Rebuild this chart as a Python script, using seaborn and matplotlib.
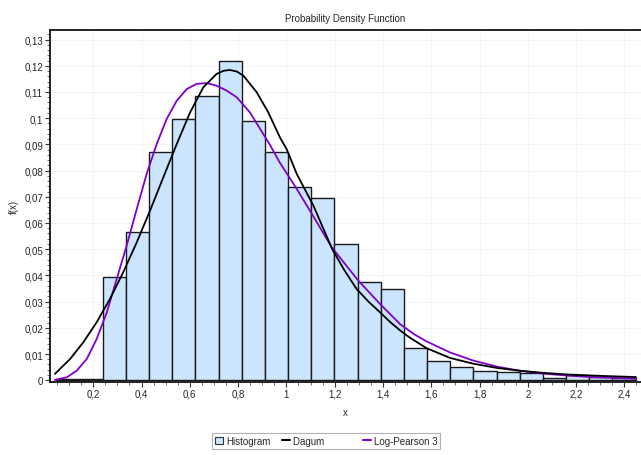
import numpy as np
import pandas as pd
import matplotlib
matplotlib.use("Agg")
import matplotlib.pyplot as plt
import seaborn as sns
from matplotlib.ticker import MultipleLocator, FuncFormatter
from matplotlib.patches import Patch
from matplotlib.lines import Line2D

# ---- data ----
hist_start = 0.0468
hist_width = 0.096
hist_heights = [0.0004, 0.0004, 0.0393, 0.0565, 0.0870, 0.0997, 0.1086, 0.1218,
                0.0991, 0.0870, 0.0739, 0.0697, 0.0520, 0.0374, 0.0348, 0.0124,
                0.0074, 0.0052, 0.0037, 0.0031, 0.0028, 0.0009, 0.0020, 0.0012,
                0.0008]

dagum_x = [0.041, 0.104, 0.159, 0.214, 0.269, 0.324, 0.380, 0.435, 0.490,
           0.546, 0.601, 0.656, 0.711, 0.740, 0.766, 0.795, 0.822, 0.877,
           0.925, 0.973, 1.001, 1.043, 1.080, 1.112, 1.150, 1.190, 1.240,
           1.291, 1.340, 1.388, 1.430, 1.471, 1.512, 1.581, 1.678, 1.774,
           1.871, 1.968, 2.064, 2.161, 2.258, 2.350, 2.448]
dagum_y = [0.0024, 0.0081, 0.0145, 0.0221, 0.0310, 0.0412, 0.0526, 0.0647,
           0.0774, 0.0902, 0.1022, 0.1118, 0.1169, 0.1181, 0.1184, 0.1178,
           0.1162, 0.1099, 0.1022, 0.0927, 0.0882, 0.0787, 0.0722, 0.0666,
           0.0585, 0.0500, 0.0420, 0.0348, 0.0300, 0.0259, 0.0222, 0.0190,
           0.0162, 0.0122, 0.0085, 0.0063, 0.0047, 0.0036, 0.0028, 0.0022,
           0.0018, 0.0015, 0.0012]

lp3_x = [0.041, 0.090, 0.131, 0.173, 0.214, 0.256, 0.297, 0.338, 0.380,
         0.421, 0.463, 0.504, 0.546, 0.587, 0.628, 0.670, 0.711, 0.753,
         0.794, 0.849, 0.904, 0.932, 0.973, 1.043, 1.112, 1.188, 1.298,
         1.388, 1.471, 1.530, 1.581, 1.678, 1.774, 1.871, 1.968, 2.064,
         2.161, 2.258, 2.350, 2.448]
lp3_y = [0.0001, 0.0011, 0.0036, 0.0081, 0.0157, 0.0259, 0.0386, 0.0513,
         0.0653, 0.0787, 0.0902, 0.0997, 0.1067, 0.1111, 0.1131, 0.1134,
         0.1124, 0.1105, 0.1080, 0.1022, 0.0940, 0.0898, 0.0830, 0.0730,
         0.0625, 0.0507, 0.0380, 0.0291, 0.0214, 0.0175, 0.0148, 0.0106,
         0.0075, 0.0052, 0.0036, 0.0025, 0.0018, 0.0012, 0.0009, 0.0006]

title = "Probability Density Function"
series_names = ["Histogram", "Dagum", "Log-Pearson 3"]

# ---- styling ----
sns.set_theme(style="white")
plt.rcParams["font.family"] = ["Liberation Sans Narrow", "Liberation Sans", "DejaVu Sans"]
plt.rcParams["font.size"] = 7

bar_color = "#cce5ff"
bar_edge = "#1a1a1a"
dagum_color = "#000000"
lp3_color = "#8000c8"

fig = plt.figure(figsize=(6.41, 4.56), dpi=100)
ax = fig.add_axes([50 / 641, 1 - 382.7 / 456, 591 / 641, (382.7 - 31) / 456])

n_bins = len(hist_heights)
centers = hist_start + hist_width * (np.arange(n_bins) + 0.5)
hist_df = pd.DataFrame({"x": centers, "w": hist_heights})
sns.histplot(data=hist_df, x="x", weights="w", binwidth=hist_width,
             binrange=(hist_start, hist_start + hist_width * n_bins), stat="count",
             color=bar_color, edgecolor=bar_edge, linewidth=1.0, alpha=1.0,
             ax=ax, zorder=2)

sns.lineplot(x=dagum_x, y=dagum_y, color=dagum_color, linewidth=1.3, ax=ax,
             zorder=4, estimator=None, sort=False)
sns.lineplot(x=lp3_x, y=lp3_y, color=lp3_color, linewidth=1.3, ax=ax,
             zorder=3, estimator=None, sort=False)

ax.set_xlim(0.0207, 2.469)
ax.set_ylim(-0.00057, 0.13366)

ax.xaxis.set_major_locator(MultipleLocator(0.2))
ax.xaxis.set_minor_locator(MultipleLocator(0.05))
ax.yaxis.set_major_locator(MultipleLocator(0.01))
ax.yaxis.set_minor_locator(MultipleLocator(0.002))
fmt = FuncFormatter(lambda v, p: ("%g" % round(v, 4)).replace(".", ","))
ax.xaxis.set_major_formatter(fmt)
ax.yaxis.set_major_formatter(fmt)

ax.tick_params(axis="both", which="major", direction="out", length=3.5, width=0.8,
               color="#333333", labelsize=7, pad=1.5, bottom=True, left=True)
ax.tick_params(axis="both", which="minor", direction="out", length=2, width=0.6,
               color="#555555", bottom=True, left=True)

ax.grid(True, which="major", color="#e6e6e6", linestyle=(0, (1, 1)), linewidth=0.6)
ax.set_axisbelow(True)

for s in ["left", "bottom", "top"]:
    ax.spines[s].set_visible(True)
    ax.spines[s].set_color("#111111")
    ax.spines[s].set_linewidth(1.3)
ax.spines["right"].set_visible(False)

ax.set_xlabel("x", fontsize=7, labelpad=6)
ax.set_ylabel("f(x)", fontsize=7, labelpad=4)
ax.set_title(title, fontsize=7, pad=6.5)

handles = [Patch(facecolor=bar_color, edgecolor="#333333", linewidth=0.8),
           Line2D([0], [0], color=dagum_color, linewidth=1.5),
           Line2D([0], [0], color=lp3_color, linewidth=1.5)]
labels = [series_names[0], series_names[1] + " " * 10, series_names[2]]
leg = fig.legend(handles, labels, loc="center", bbox_to_anchor=(0.509, 0.031),
                 ncol=3, frameon=True, fancybox=False, edgecolor="#a0a0a0",
                 fontsize=7, handlelength=0.8, handleheight=0.8, handletextpad=0.3,
                 columnspacing=1.2, borderpad=0.3, borderaxespad=0)
leg.get_frame().set_linewidth(0.8)

fig.savefig("out.png", dpi=100)
